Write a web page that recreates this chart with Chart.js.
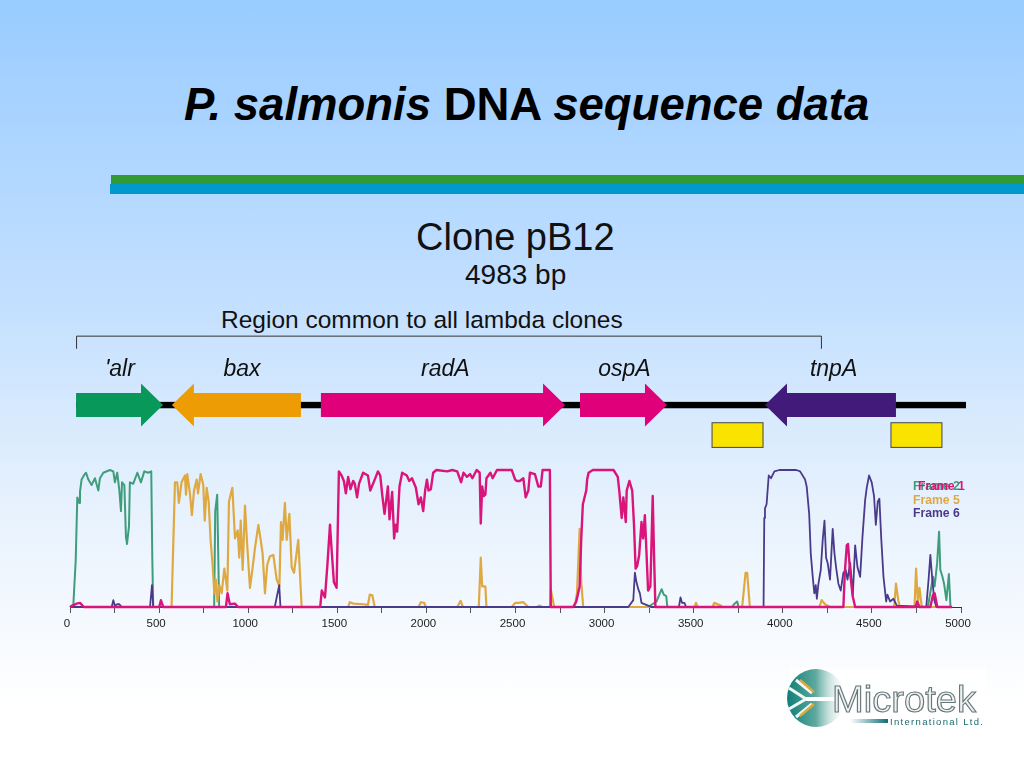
<!DOCTYPE html>
<html>
<head>
<meta charset="utf-8">
<script src="https://cdn.jsdelivr.net/npm/chart.js@4"></script>
<style>
html,body{margin:0;padding:0;width:1024px;height:768px;overflow:hidden;}
body{position:relative;background:linear-gradient(to bottom,#99CCFF 0%,#C4E0FF 40%,#E6F1FD 65%,#FFFFFF 92%);font-family:"Liberation Sans",Arial,sans-serif;}
canvas{position:absolute;left:0;top:0;}
.t{position:absolute;white-space:nowrap;color:#111;line-height:1;}
.band{position:absolute;right:0;}
svg{position:absolute;left:0;top:0;}
</style>
</head>
<body>
<div class="t" id="title" style="left:184px;top:82px;font-size:45.5px;font-weight:bold;color:#000;"><i>P. salmonis</i> DNA <i>sequence data</i></div>
<div class="band" style="left:111px;top:175px;height:8.5px;background:#339933;"></div>
<div class="band" style="left:110px;top:184px;height:10px;background:#0099CC;"></div>
<div class="t" style="left:416px;top:218px;font-size:38px;">Clone pB12</div>
<div class="t" style="left:465px;top:261px;font-size:28px;">4983 bp</div>
<div class="t" style="left:221px;top:307.5px;font-size:24.5px;">Region common to all lambda clones</div>

<canvas id="c" width="1024" height="768"></canvas>

<svg width="1024" height="768" viewBox="0 0 1024 768">
  <defs>
    <linearGradient id="gl" x1="0" x2="1" y1="0" y2="0">
      <stop offset="0" stop-color="#0E7F7A"/><stop offset="0.5" stop-color="#5FA99E"/><stop offset="1" stop-color="#FFFFFF" stop-opacity="0.2"/>
    </linearGradient>
    <linearGradient id="bar" x1="0" x2="1" y1="0" y2="0">
      <stop offset="0" stop-color="#FFFFFF"/><stop offset="1" stop-color="#0E6F78"/>
    </linearGradient>
  </defs>
  <rect x="790" y="668" width="196" height="66" fill="#FFFFFF" opacity="0.75"/>
  <circle cx="816" cy="698" r="29" fill="url(#gl)"/>
  <path d="M789 688 L806 699 L789 709 M796 680 L812 693 M796 717 L812 704" stroke="#F2F7F2" stroke-width="3" fill="none"/>
  <path d="M800 680 L814 692 M800 716 L814 704" stroke="#D9A93A" stroke-width="2.5" fill="none"/>
  <path d="M806 699 L838 699" stroke="#FFFFFF" stroke-width="4"/>
  <text x="832" y="712" font-family="Liberation Sans" font-size="37" textLength="144" lengthAdjust="spacingAndGlyphs" fill="#EEF2F1" stroke="#66777A" stroke-width="1.1">Microtek</text>
  <rect x="850" y="719" width="38" height="4" fill="url(#bar)"/>
  <text x="890" y="725" font-family="Liberation Sans" font-size="9.5" textLength="93" fill="#1B6A6E">International  Ltd.</text>
</svg>

<script>
// Reading frames: position (bp) and coding probability (percent)
const frame2X = [0,19,32,41,52,56,65,78,90,103,121,140,159,168,187,224,243,252,265,277,286,292,305,314,320,331,336,355,378,398,417,439,456,462,467,809,815,826,837,3244,3291,3320,3332,3346,3352,3715,3726,3744,3752,4814,4843,4852,4866,4877,4884,4894,4905,4918,4932,4941,4950];
const frame2Y = [0,2,34,80,76,84,93,96,98,93,89,94,85,94,98,100,99,91,98,85,70,91,89,51,46,59,91,90,98,91,99,98,99,34,0,0,70,82,0,0,4,13,9,8,0,0,2,4,0,0,22,15,32,55,27,23,17,5,24,0,0];

const frame1X = [0,37,56,78,501,510,523,875,884,897,925,944,1404,1413,1431,1444,1459,1468,1481,1496,1509,1524,1537,1548,1561,1574,1589,1598,1611,1622,1645,1672,1685,1710,1728,1741,1752,1765,1784,1793,1808,1819,1826,1836,1849,1864,1890,1904,1919,1941,1956,1969,1982,1993,2003,2012,2025,2038,2056,2117,2145,2173,2195,2208,2227,2245,2258,2282,2299,2305,2313,2322,2331,2337,2359,2372,2396,2479,2498,2507,2524,2544,2557,2572,2581,2609,2628,2642,2652,2693,2698,2823,2841,2860,2869,2878,2897,2902,2910,2934,3050,3074,3083,3087,3096,3105,3119,3124,3139,3155,3165,3174,3183,3194,3207,3216,3226,3235,3244,3257,3270,3278,3285,4340,4348,4359,4366,4378,4392,4406,4744,4754,4767,4828,4843,4852,4867,4950];
const frame1Y = [0,2.5,3,0,0,5,0,0,10,2,2.5,0,0,12,7,30,60,42,18,14,99,96,92,83,95,86,92,90,80,90,98,96,85,93,99,96,82,68,88,64,84,50,60,55,88,98,96,92,94,87,75,80,70,85,93,85,86,98,100,99,100,99,91,98,95,97,94,100,98,61,88,81,82,94,98,94,100,100,93,92,92,94,80,85,98,97,88,88,100,100,0,0,4,15,50,75,85,93,98,100,100,95,84,78,65,80,62,85,92,85,60,28,30,38,62,50,67,40,12,15,81,35,0,0,25,45,46,25,8,0,0,4,0,0,9,10,0,0];

const frame5X = [0,570,589,602,611,626,645,651,658,673,684,696,711,718,733,748,756,767,778,789,800,810,819,827,838,851,866,883,892,911,926,941,950,958,969,982,995,1010,1025,1038,1057,1070,1081,1094,1107,1122,1141,1160,1175,1184,1193,1206,1216,1231,1244,1257,1281,1300,1561,1570,1589,1645,1672,1682,1697,1710,1956,1969,1988,1997,2173,2192,2205,2294,2305,2313,2322,2331,2337,2479,2498,2516,2544,2572,2618,2637,2650,2693,2698,2717,2832,2845,2860,2869,2880,3505,3513,3522,3606,3615,3652,3660,3772,3791,3800,3815,4205,4218,4237,4265,4625,4635,4648,4657,4739,4748,4758,4767,4780,4950];
const frame5Y = [0,0,91,91,76,91,96,82,97,83,67,85,93,83,97,89,63,87,77,49,31,10,20,4,16,10,28,12,77,87,50,56,36,63,27,74,44,14,29,43,60,49,39,10,31,37,38,20,15,62,49,76,49,68,29,25,49,0,0,3.5,2.5,2,1.5,9,8.5,0,0,3.5,3,0,0,4.5,0,0,36,15,15,15,0,0,3,3,3.5,0,0,1,0,0,13,0,0,10,57,18,0,0,3,0,0,3,1,0,0,25,25,0,0,5,2,0,0,17,5,0,0,28,3,14,0,0];

const frame6X = [0,234,243,252,265,277,290,449,460,467,1149,1174,1181,3133,3161,3170,3179,3189,3198,3207,3244,3262,3417,3426,3435,3448,3457,3892,3896,3900,3909,3921,3934,3953,3981,4076,4097,4125,4134,4148,4157,4168,4177,4185,4191,4200,4213,4224,4234,4243,4252,4265,4280,4290,4299,4312,4325,4340,4353,4363,4378,4393,4406,4419,4434,4447,4462,4471,4484,4499,4512,4522,4533,4542,4552,4565,4580,4587,4602,4621,4640,4805,4818,4828,4839,4850,4862,4950];
const frame6Y = [0,0,5,1,2,2,0,0,16,0,0,16,0,0,5,25,18,13,10,3,1,0,0,7,3,3,0,0,65,72,75,96,94,99,100,100,99,93,88,68,39,22,10,16,6,17,27,49,63,36,32,20,57,39,29,17,12,25,27,20,32,9,45,29,22,51,78,87,96,91,81,60,77,79,51,22,4,9,4,6,1,0,20,38,20,5,0,0];

const seriesNames = ["Frame 1","Frame 2","Frame 5","Frame 6"];
const xTicksMajor = 500;

// Genetic map, in base pairs
const geneNames  = ["'alr","bax","radA","ospA","tnpA"];
const geneFrom   = [34,1296,1408,2862,4635];
const geneTo     = [522,572,2778,3350,3900];
const geneLabelX = [280,965,2106,3111,4285];
const geneColors = ["#07985A","#EE9C04","#E0007A","#E0007A","#421A7A"];
const backboneSpan = [34,5028];
const bracketSpan  = [34,4214];
const boxFrom = [3603,4607];
const boxTo   = [3889,4893];

const lineColors = {f1:"#D9147A",f2:"#3F9D7B",f5:"#DFA942",f6:"#4A3A8A"};

const pts = (xs,ys)=>xs.map((x,i)=>({x,y:ys[i]}));

const genePlugin = {
  id:"geneMap",
  afterDraw(chart){
    const ctx = chart.ctx, X = chart.scales.x, Y = chart.scales.y;
    const px = v=>X.getPixelForValue(v);
    const yAt = v=>Y.getPixelForValue(v);
    const rowY = yAt(147.4), shaft=12, head=21.5, headLen=22;
    ctx.save();
    // bracket
    ctx.strokeStyle="#333"; ctx.lineWidth=1;
    const by = yAt(197.7), bd = yAt(188.5);
    ctx.beginPath();
    ctx.moveTo(px(bracketSpan[0])+.5,bd); ctx.lineTo(px(bracketSpan[0])+.5,by);
    ctx.lineTo(px(bracketSpan[1])+.5,by); ctx.lineTo(px(bracketSpan[1])+.5,bd);
    ctx.stroke();
    // backbone
    ctx.fillStyle="#000";
    ctx.fillRect(px(backboneSpan[0]),rowY-3.2,px(backboneSpan[1])-px(backboneSpan[0]),6.4);
    // genes
    geneNames.forEach((n,i)=>{
      const a=px(geneFrom[i]), b=px(geneTo[i]), d=b>a?1:-1, n0=b-d*headLen;
      ctx.beginPath();
      ctx.moveTo(a,rowY-shaft); ctx.lineTo(n0,rowY-shaft); ctx.lineTo(n0,rowY-head);
      ctx.lineTo(b,rowY); ctx.lineTo(n0,rowY+head); ctx.lineTo(n0,rowY+shaft); ctx.lineTo(a,rowY+shaft);
      ctx.closePath();
      ctx.fillStyle=geneColors[i]; ctx.fill();
      ctx.font="italic 23px 'Liberation Sans'"; ctx.fillStyle="#111";
      ctx.textAlign="center"; ctx.textBaseline="alphabetic";
      ctx.fillText(n,px(geneLabelX[i]),yAt(168.3));
    });
    // yellow boxes
    boxFrom.forEach((f,i)=>{
      const a=px(f), b=px(boxTo[i]), t=yAt(134.5), h=yAt(116.5)-t;
      ctx.fillStyle="#F9E400"; ctx.fillRect(a,t,b-a,h);
      ctx.strokeStyle="#444"; ctx.lineWidth=1; ctx.strokeRect(a,t,b-a,h);
    });
    // legend (first two labels overlap, as in the figure)
    ctx.font="bold 12.2px 'Liberation Sans'"; ctx.textAlign="left"; ctx.textBaseline="middle";
    [[seriesNames[1],913,487,lineColors.f2],[seriesNames[0],918,487,lineColors.f1],
     [seriesNames[2],913,500.5,lineColors.f5],[seriesNames[3],913,514,lineColors.f6]].forEach(r=>{
      ctx.fillStyle=r[3]; ctx.fillText(r[0],r[1],r[2]);
    });
    ctx.restore();
  }
};

new Chart(document.getElementById("c"),{
  type:"line",
  data:{datasets:[
    {label:seriesNames[0],data:pts(frame1X,frame1Y),borderColor:lineColors.f1,borderWidth:2.4,order:1,clip:false},
    {label:seriesNames[3],data:pts(frame6X,frame6Y),borderColor:lineColors.f6,borderWidth:1.8,order:2,clip:false},
    {label:seriesNames[2],data:pts(frame5X,frame5Y),borderColor:lineColors.f5,borderWidth:2.2,order:3,clip:false},
    {label:seriesNames[1],data:pts(frame2X,frame2Y),borderColor:lineColors.f2,borderWidth:2,order:4,clip:false}
  ]},
  options:{
    responsive:false,animation:false,
    layout:{padding:{left:70,right:63,top:470,bottom:0}},
    elements:{point:{radius:0},line:{tension:0,borderJoinStyle:"round"}},
    plugins:{legend:{display:false},tooltip:{enabled:false},title:{display:false}},
    scales:{
      x:{type:"linear",min:0,max:5000,
        afterFit(s){s.height=161;},
        border:{display:true,color:"#333",width:1},
        grid:{drawOnChartArea:false,drawTicks:true,tickLength:6,color:"#555"},
        ticks:{stepSize:250,autoSkip:false,maxRotation:0,padding:4,labelOffset:-3,color:"#222",font:{family:"Liberation Sans",size:11.5},
          callback:v=>v%xTicksMajor===0?String(v):""}},
      y:{display:false,min:0,max:100}
    }
  },
  plugins:[genePlugin]
});
</script>
</body>
</html>
